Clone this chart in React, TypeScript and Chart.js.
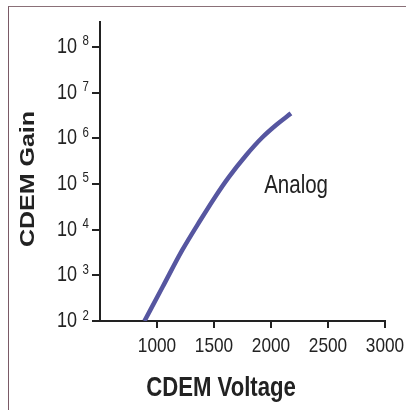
import React, { useEffect, useRef } from "react";
import { Chart, registerables } from "chart.js";

Chart.register(...registerables);

// ---- data ----
const VOLTAGE = [890, 1050, 1220, 1380, 1510, 1630, 1780, 1925, 2045, 2175];
const GAIN = [1e2, 5.6e2, 3.5e3, 1.6e4, 5.2e4, 1.41e5, 4.2e5, 1.05e6, 1.95e6, 3.5e6];
const X_TICKS = [1000, 1500, 2000, 2500, 3000];
const Y_EXPONENTS = [2, 3, 4, 5, 6, 7, 8];
const X_RANGE = [500, 3000];
const Y_RANGE = [1e2, 3.5e8];
const SERIES_LABEL = "Analog";
const SERIES_LABEL_AT = { x: 1940, y: 6.3e4 };
const X_TITLE = "CDEM Voltage";
const Y_TITLE = "CDEM Gain";

const SANS = "'Liberation Sans', Arial, Helvetica, sans-serif";
const INK = "#222";
const SQUEEZE = 0.82; // the reference's type is horizontally condensed

function drawText(
  ctx: CanvasRenderingContext2D,
  text: string,
  x: number,
  y: number,
  font: string,
  align: CanvasTextAlign,
  baseline: CanvasTextBaseline
) {
  ctx.save();
  ctx.translate(x, y);
  ctx.scale(SQUEEZE, 1);
  ctx.font = font;
  ctx.textAlign = align;
  ctx.textBaseline = baseline;
  ctx.fillText(text, 0, 0);
  ctx.restore();
}

const textPlugin = {
  id: "customText",
  afterDraw(chart: any) {
    const { ctx, chartArea, scales } = chart;
    const x = scales.x;
    const y = scales.y;
    ctx.save();
    ctx.fillStyle = INK;
    // y tick labels: 10 with superscript exponent
    for (const e of Y_EXPONENTS) {
      const py = y.getPixelForValue(Math.pow(10, e));
      drawText(ctx, "10", chartArea.left - 23, py, `22px ${SANS}`, "right", "middle");
      drawText(ctx, String(e), chartArea.left - 17.5, py - 1.5, `14px ${SANS}`, "left", "alphabetic");
    }
    // x tick labels
    for (const v of X_TICKS) {
      drawText(ctx, String(v), x.getPixelForValue(v), chartArea.bottom + 25, `21px ${SANS}`, "center", "middle");
    }
    // series label
    drawText(
      ctx,
      SERIES_LABEL,
      x.getPixelForValue(SERIES_LABEL_AT.x),
      y.getPixelForValue(SERIES_LABEL_AT.y),
      `25px ${SANS}`,
      "left",
      "alphabetic"
    );
    // x title
    drawText(ctx, X_TITLE, 221, 396, `bold 27px ${SANS}`, "center", "alphabetic");
    // y title
    ctx.save();
    ctx.translate(28, 179);
    ctx.rotate(-Math.PI / 2);
    ctx.scale(1, SQUEEZE);
    ctx.font = `bold 25px ${SANS}`;
    ctx.textAlign = "center";
    ctx.textBaseline = "middle";
    ctx.fillText(Y_TITLE, 0, 0);
    ctx.restore();
    ctx.restore();
  },
};

export default function App() {
  const ref = useRef<HTMLCanvasElement | null>(null);

  useEffect(() => {
    if (!ref.current) return;
    const chart = new Chart(ref.current, {
      type: "line",
      data: {
        datasets: [
          {
            label: SERIES_LABEL,
            data: VOLTAGE.map((v, i) => ({ x: v, y: GAIN[i] })),
            borderColor: "#5656a0",
            borderWidth: 4.5,
            pointRadius: 0,
            tension: 0.4,
            cubicInterpolationMode: "monotone",
            fill: false,
          },
        ],
      },
      options: {
        animation: false,
        responsive: false,
        devicePixelRatio: 1,
        layout: { padding: { left: 0, top: 22, right: 21, bottom: 0 } },
        plugins: { legend: { display: false }, tooltip: { enabled: false }, title: { display: false } },
        scales: {
          x: {
            type: "linear",
            min: X_RANGE[0],
            max: X_RANGE[1],
            afterBuildTicks: (s: any) => {
              s.ticks = X_TICKS.map((v) => ({ value: v }));
            },
            afterFit: (s: any) => {
              s.height = 89;
            },
            ticks: { display: false },
            grid: { drawOnChartArea: false, drawTicks: true, tickLength: 7, color: INK, lineWidth: 2 },
            border: { display: true, color: INK, width: 2 },
          },
          y: {
            type: "logarithmic",
            min: Y_RANGE[0],
            max: Y_RANGE[1],
            afterBuildTicks: (s: any) => {
              s.ticks = Y_EXPONENTS.map((e) => ({ value: Math.pow(10, e) }));
            },
            afterFit: (s: any) => {
              s.width = 100;
            },
            ticks: { display: false },
            grid: { drawOnChartArea: false, drawTicks: true, tickLength: 8, color: INK, lineWidth: 2 },
            border: { display: true, color: INK, width: 2 },
          },
        },
      },
      plugins: [textPlugin],
    });
    return () => chart.destroy();
  }, []);

  return (
    <div style={{ position: "fixed", left: 0, top: 0, width: 406, height: 410, background: "#fff", overflow: "hidden" }}>
      <div
        style={{
          position: "absolute",
          left: 8,
          top: 6,
          width: 420,
          height: 420,
          borderLeft: "1.5px solid #7a5a66",
          borderTop: "1.5px solid #8a7078",
          boxSizing: "border-box",
        }}
      />
      <canvas ref={ref} width={406} height={410} style={{ position: "absolute", left: 0, top: 0 }} />
    </div>
  );
}
